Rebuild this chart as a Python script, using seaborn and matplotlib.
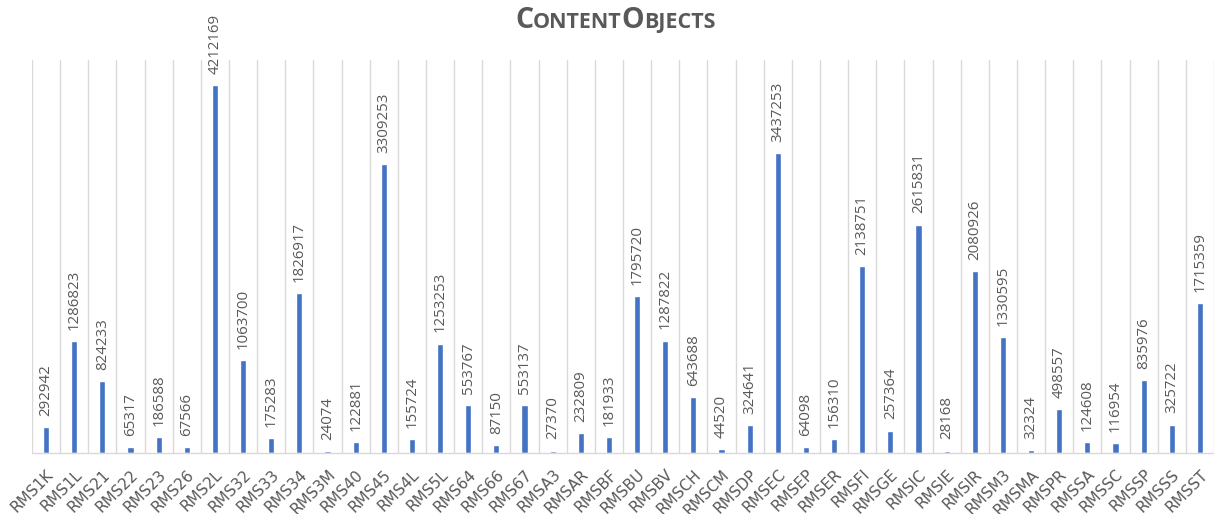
"""ContentObjects bar chart per RMS table."""

import matplotlib

matplotlib.use("Agg")
import matplotlib.pyplot as plt
import numpy as np
import pandas as pd
import seaborn as sns
from matplotlib.offsetbox import AnchoredOffsetbox, HPacker, TextArea

TABLES = [
    "RMS1K", "RMS1L", "RMS21", "RMS22", "RMS23", "RMS26", "RMS2L", "RMS32",
    "RMS33", "RMS34", "RMS3M", "RMS40", "RMS45", "RMS4L", "RMS5L", "RMS64",
    "RMS66", "RMS67", "RMSA3", "RMSAR", "RMSBF", "RMSBU", "RMSBV", "RMSCH",
    "RMSCM", "RMSDP", "RMSEC", "RMSEP", "RMSER", "RMSFI", "RMSGE", "RMSIC",
    "RMSIE", "RMSIR", "RMSM3", "RMSMA", "RMSPR", "RMSSA", "RMSSC", "RMSSP",
    "RMSSS", "RMSST",
]
CONTENT_OBJECTS = [
    292942, 1286823, 824233, 65317, 186588, 67566, 4212169, 1063700,
    175283, 1826917, 24074, 122881, 3309253, 155724, 1253253, 553767,
    87150, 553137, 27370, 232809, 181933, 1795720, 1287822, 643688,
    44520, 324641, 3437253, 64098, 156310, 2138751, 257364, 2615831,
    28168, 2080926, 1330595, 32324, 498557, 124608, 116954, 835976,
    325722, 1715359,
]

BAR_COLOR = "#4472C4"
TEXT_COLOR = "#595959"
GRID_COLOR = "#D9D9D9"
FONT = ["Open Sans", "DejaVu Sans"]


def main() -> None:
    sns.set_theme(style="white")
    plt.rcParams["font.family"] = FONT

    df = pd.DataFrame({"table": TABLES, "objects": CONTENT_OBJECTS})

    fig = plt.figure(figsize=(12.14, 5.14), dpi=100)
    ax = fig.add_axes([32 / 1214, 1 - 453 / 514, 1 - 32 / 1214, (453 - 60) / 514])

    sns.barplot(data=df, x="table", y="objects", color=BAR_COLOR,
                width=0.22, saturation=1, ax=ax)

    ax.set_xlim(-0.5, len(TABLES) - 0.5)
    ax.set_ylim(0, 4_500_000)
    ax.set_xlabel("")
    ax.set_ylabel("")
    ax.set_yticks([])

    ax.set_xticks(np.arange(len(TABLES) + 1) - 0.5, minor=True)
    ax.grid(which="minor", axis="x", color=GRID_COLOR, linewidth=1)
    ax.grid(which="major", visible=False)
    ax.set_xticks(np.arange(len(TABLES)), labels=TABLES)
    ax.tick_params(axis="x", which="both", length=0)
    ax.tick_params(axis="x", which="major", pad=10, labelsize=11,
                   labelcolor=TEXT_COLOR, labelrotation=45)
    for lbl in ax.get_xticklabels():
        lbl.set_ha("right")
        lbl.set_va("top")
        lbl.set_rotation_mode("anchor")
        lbl.set_family("DejaVu Sans")

    for side in ("top", "left", "right"):
        ax.spines[side].set_visible(False)
    ax.spines["bottom"].set_color(GRID_COLOR)
    ax.spines["bottom"].set_linewidth(1)

    ax.bar_label(ax.containers[0], labels=[str(v) for v in CONTENT_OBJECTS],
                 rotation=90, padding=8, fontsize=10.8, color=TEXT_COLOR)

    # Small-caps style title built from pieces.
    big = dict(color=TEXT_COLOR, fontsize=20.5, fontweight="bold", family=FONT)
    small = dict(color=TEXT_COLOR, fontsize=15.5, fontweight="bold", family=FONT)
    pieces = [
        TextArea("C", textprops=big),
        TextArea("ONTENT", textprops=small),
        TextArea("O", textprops=big),
        TextArea("BJECTS", textprops=small),
    ]
    title = HPacker(children=pieces, align="baseline", pad=0, sep=0)
    anchored = AnchoredOffsetbox(loc="center", child=title, frameon=False,
                                 bbox_to_anchor=(0.507, 0.961),
                                 bbox_transform=fig.transFigure, pad=0,
                                 borderpad=0)
    fig.add_artist(anchored)

    fig.savefig("out.png", dpi=100)
    plt.close(fig)


if __name__ == "__main__":
    main()
